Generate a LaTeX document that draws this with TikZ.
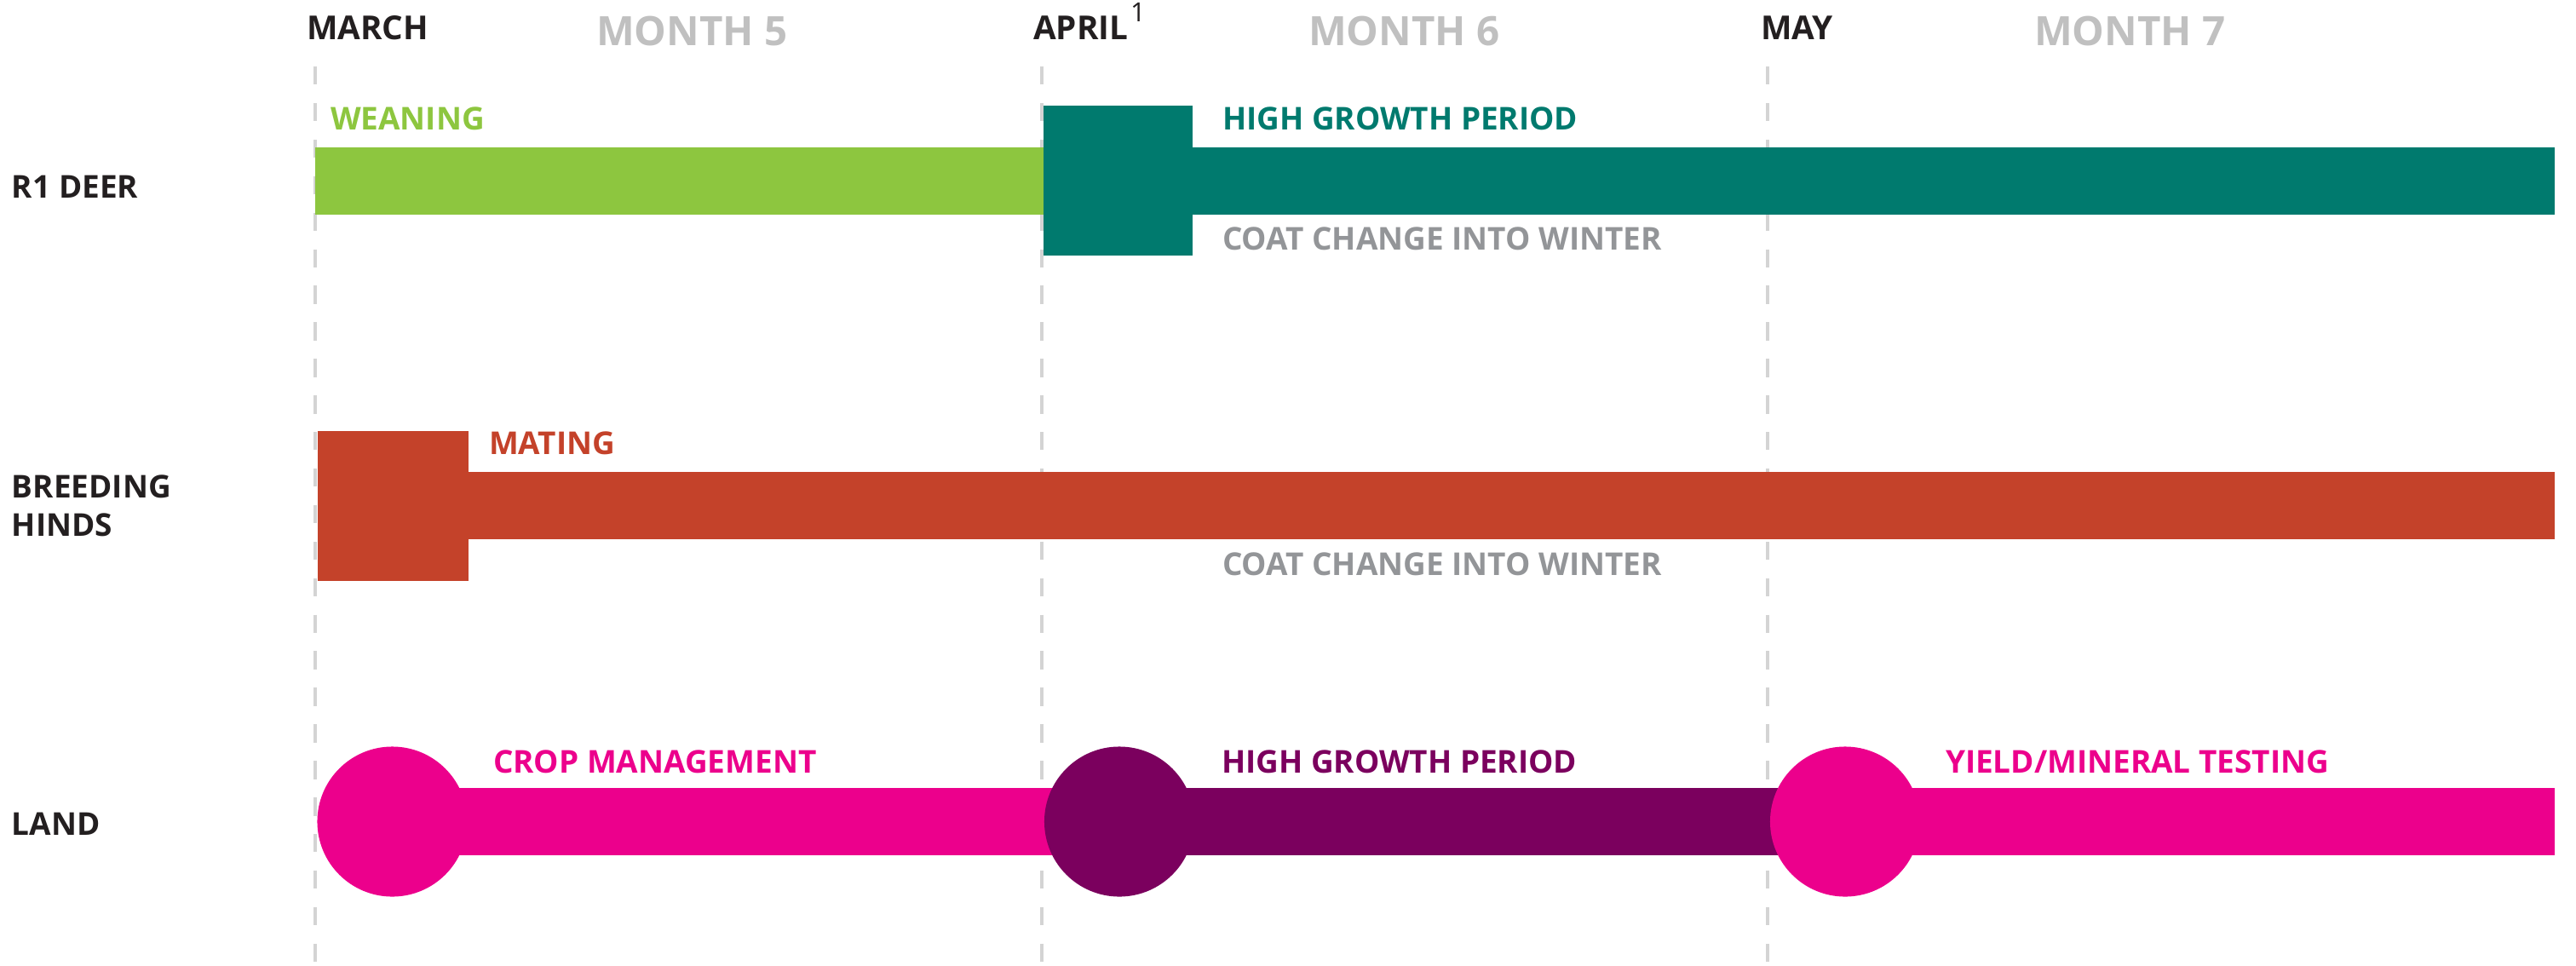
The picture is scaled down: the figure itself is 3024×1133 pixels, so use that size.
\documentclass[tikz,border=0pt]{standalone}
\usepackage{fontspec}
\setmainfont{Open Sans}
\definecolor{cgreen}{HTML}{8DC63F}
\definecolor{cteal}{HTML}{007A6E}
\definecolor{cred}{HTML}{C4422A}
\definecolor{cpink}{HTML}{EC008C}
\definecolor{cpurple}{HTML}{7B005E}
\definecolor{cgraytxt}{HTML}{939598}
\definecolor{cmonth}{HTML}{C0C0C0}
\definecolor{cblack}{HTML}{231F20}
\definecolor{cdash}{HTML}{D4D4D4}
\begin{document}
\begin{tikzpicture}[x=0.01cm,y=-0.01cm,
  txt/.style={anchor=base west, inner sep=0pt, outer sep=0pt, font=\fontsize{10.5}{12.8}\selectfont\bfseries},
  hdr/.style={txt, text=cblack, font=\fontsize{11}{13}\selectfont\bfseries},
  month/.style={txt, text=cmonth, font=\fontsize{13.5}{16}\selectfont\bfseries},
  rowlbl/.style={txt, text=cblack},
  guide/.style={cdash, line width=1.15pt, dash pattern=on 6.1pt off 6.1pt},
]
\useasboundingbox (0,0) rectangle (3024,1133);
% guide lines
\coordinate (g1t) at (370,78); \coordinate (g1b) at (370,1133);
\coordinate (g2t) at (1223,78); \coordinate (g2b) at (1223,1133);
\coordinate (g3t) at (2075,78); \coordinate (g3b) at (2075,1133);
\draw[guide] (g1t) -- (g1b);
\draw[guide] (g2t) -- (g2b);
\draw[guide] (g3t) -- (g3b);
% header
\node[hdr] (march) at (360,46) {MARCH};
\node[month] (m5) at (700,53) {MONTH 5};
\node[hdr] (april) at (1213,46) {APRIL};
\node[txt, text=cblack, font=\fontsize{8.8}{10}\selectfont] (sup) at (1327,25) {1};
\node[month] (m6) at (1536,53) {MONTH 6};
\node[hdr] (may) at (2067,46) {MAY};
\node[month] (m7) at (2388,53) {MONTH 7};
% row labels
\node[rowlbl] (r1) at (14,232) {R1 DEER};
\node[rowlbl] (bh1) at (14,584) {BREEDING};
\node[rowlbl] (bh2) at (14,629) {HINDS};
\node[rowlbl] (land) at (14,980) {LAND};
% R1 deer
\fill[cgreen] (370,173) rectangle (1225,252);
\fill[cteal] (1225,173) rectangle (2999,252);
\fill[cteal] (1225,124) rectangle (1400,300);
\node[txt, text=cgreen] (wean) at (388,152) {WEANING};
\node[txt, text=cteal] (hgp1) at (1435,152) {HIGH GROWTH PERIOD};
\node[txt, text=cgraytxt] (coat1) at (1435,293) {COAT CHANGE INTO WINTER};
% breeding hinds
\fill[cred] (550,554) rectangle (2999,633);
\fill[cred] (373,506) rectangle (550,682);
\node[txt, text=cred] (mating) at (574,533) {MATING};
\node[txt, text=cgraytxt] (coat2) at (1435,675) {COAT CHANGE INTO WINTER};
% land
\fill[cpink] (460,925) rectangle (1314,1004);
\fill[cpurple] (1314,925) rectangle (2166,1004);
\fill[cpink] (2166,925) rectangle (2999,1004);
\fill[cpink] (460.5,964.5) circle (0.88cm);
\fill[cpurple] (1314,964.5) circle (0.88cm);
\fill[cpink] (2166,964.5) circle (0.88cm);
\node[txt, text=cpink] (crop) at (579,907) {CROP MANAGEMENT};
\node[txt, text=cpurple] (hgp2) at (1434,907) {HIGH GROWTH PERIOD};
\node[txt, text=cpink] (yield) at (2284,907) {YIELD/MINERAL TESTING};
\end{tikzpicture}
\end{document}
